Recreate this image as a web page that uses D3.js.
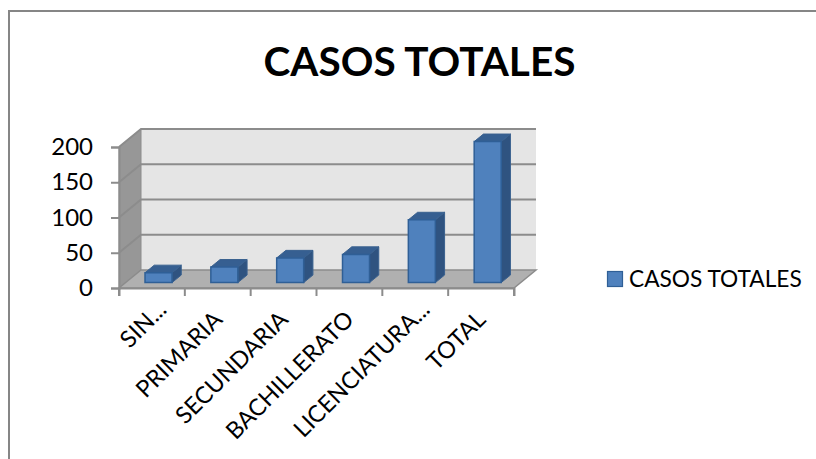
<!DOCTYPE html>
<html>
<head>
<meta charset="utf-8">
<script src="https://cdn.jsdelivr.net/npm/d3@7"></script>
<style>
    html, body { margin: 0; padding: 0; background: #fff; }
    svg { display: block; }
    text { font-family: Lato, "Open Sans", sans-serif; fill: #000; }
</style>
</head>
<body>
<svg width="816" height="459"></svg>
<script>
const categories = ['SIN...', 'PRIMARIA', 'SECUNDARIA', 'BACHILLERATO', 'LICENCIATURA...', 'TOTAL'];
const values = [14, 22, 35, 40, 89, 200];
const yTicks = [0, 50, 100, 150, 200];
const seriesName = 'CASOS TOTALES';

const svg = d3.select('svg');

// chart frame
svg.append('path')
    .attr('d', 'M9,459V11H816')
    .attr('fill', 'none')
    .attr('stroke', '#868686')
    .attr('stroke-width', 2);

svg.append('text')
    .attr('x', 419.5)
    .attr('y', 76)
    .attr('text-anchor', 'middle')
    .attr('font-size', 40.5)
    .attr('font-weight', 700)
    .text('CASOS TOTALES');

// *** scales ***
const x = d3.scaleBand().domain(categories).range([119, 514]);
const y = d3.scaleLinear().domain([0, 200]).range([288, 147]);
const depthX = 22;
const depthY = 18;
// point on the 3d box: px/py on the front plane, d = 0 front .. 1 back
const project = (px, py, d) => [px + depthX * d, py - depthY * d];
const poly = pts => 'M' + pts.map(p => p.join(',')).join('L') + 'Z';

const x0 = x.range()[0];
const x1 = x.range()[1];
const y0 = y(0);
const yTop = y(200);

// back wall
svg.append('path')
    .attr('d', poly([project(x0, yTop, 1), project(x1, yTop, 1), project(x1, y0, 1), project(x0, y0, 1)]))
    .attr('fill', '#e5e5e5');
// side wall
svg.append('path')
    .attr('d', poly([project(x0, y0, 0), project(x0, yTop, 0), project(x0, yTop, 1), project(x0, y0, 1)]))
    .attr('fill', '#979797')
    .attr('stroke', '#8c8c8c');
// floor
svg.append('path')
    .attr('d', poly([project(x0, y0, 0), project(x1, y0, 0), project(x1, y0, 1), project(x0, y0, 1)]))
    .attr('fill', '#b0b0b0')
    .attr('stroke', '#8c8c8c')
    .attr('stroke-width', 1.5);

// gridlines
yTicks.slice(1).forEach(t => {
    const a = project(x0, y(t), 0);
    const b = project(x0, y(t), 1);
    const c = project(x1, y(t), 1);
    svg.append('path')
        .attr('d', `M${a}L${b}L${c}`)
        .attr('fill', 'none')
        .attr('stroke', '#8c8c8c')
        .attr('stroke-width', 2);
});

// axes
const yAxis = d3.axisLeft(y).tickValues(yTicks).tickSize(8).tickPadding(18);
const gy = svg.append('g').attr('transform', `translate(${x0},0)`).call(yAxis);
gy.selectAll('text').attr('font-size', 24).attr('font-family', 'Lato');
gy.selectAll('line').attr('stroke', '#8c8c8c').attr('stroke-width', 2);
gy.select('.domain').attr('stroke', '#8c8c8c').attr('stroke-width', 2);

const xAxis = d3.axisBottom(x).tickSize(8).tickFormat('');
const gx = svg.append('g').attr('transform', `translate(0,${y0})`).call(xAxis);
gx.select('.domain').attr('stroke', '#8c8c8c').attr('stroke-width', 2);
gx.selectAll('.tick').remove();
categories.concat('end').forEach((c, i) => {
    const tx = x0 + x.step() * i;
    gx.append('line')
        .attr('x1', tx).attr('x2', tx).attr('y1', 0).attr('y2', 8)
        .attr('stroke', '#8c8c8c').attr('stroke-width', 2);
});

// category labels, rotated, ending near the middle of each band
svg.append('g').selectAll('text')
    .data(categories)
    .join('text')
    .attr('text-anchor', 'end')
    .attr('font-size', 23.5)
    .attr('transform', d => {
        const shift = d.endsWith('...') ? 10 : 0; // the cut labels reach further up
        return `translate(${x(d) + x.bandwidth() / 2 + 6 + shift},${y0 + 33 - shift}) rotate(-45)`;
    })
    .text(d => d);

// *** bars ***
const barWidth = 27;
const barFront = 0.3;
const barBack = 0.72;
const bars = svg.append('g').selectAll('g')
    .data(categories.map((c, i) => ({ c, v: values[i] })))
    .join('g');
const barLeft = d => x(d.c) + x.bandwidth() / 2 - barWidth / 2;

bars.append('path') // side
    .attr('d', d => {
        const l = barLeft(d) + barWidth;
        return poly([project(l, y(0), barFront), project(l, y(0), barBack), project(l, y(d.v), barBack), project(l, y(d.v), barFront)]);
    })
    .attr('fill', '#2f5380')
    .attr('stroke', '#3a618f');
bars.append('path') // top
    .attr('d', d => {
        const l = barLeft(d);
        const r = l + barWidth;
        return poly([project(l, y(d.v), barFront), project(r, y(d.v), barFront), project(r, y(d.v), barBack), project(l, y(d.v), barBack)]);
    })
    .attr('fill', '#365f91')
    .attr('stroke', '#3a618f');
bars.append('path') // front
    .attr('d', d => {
        const l = barLeft(d);
        const r = l + barWidth;
        return poly([project(l, y(0), barFront), project(r, y(0), barFront), project(r, y(d.v), barFront), project(l, y(d.v), barFront)]);
    })
    .attr('fill', '#4f81bd')
    .attr('stroke', '#2f5f96')
    .attr('stroke-width', 1.5);

// legend
svg.append('rect')
    .attr('x', 607.5).attr('y', 271.5).attr('width', 15).attr('height', 15)
    .attr('fill', '#4f81bd')
    .attr('stroke', '#2f5f96')
    .attr('stroke-width', 1.2);
svg.append('text')
    .attr('x', 629)
    .attr('y', 287)
    .attr('font-size', 22.7)
    .text(seriesName);
</script>
</body>
</html>
